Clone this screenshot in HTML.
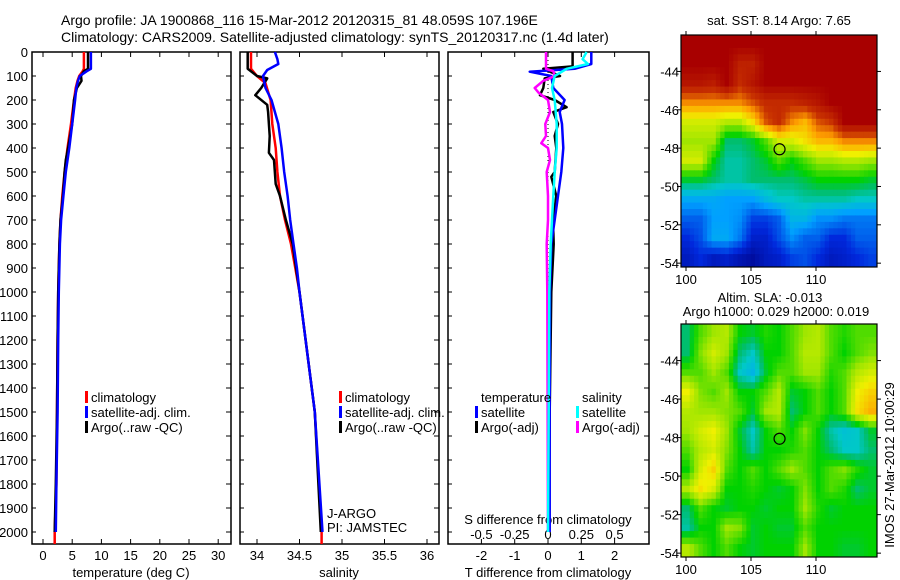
<!DOCTYPE html>
<html><head><meta charset="utf-8"><style>
body{margin:0;background:#fff;}
svg{display:block;font-family:"Liberation Sans",sans-serif;}
text{font-size:13px;fill:#000;}
</style></head><body>
<svg id="chart" width="900" height="580" viewBox="0 0 900 580" xmlns="http://www.w3.org/2000/svg">
<rect width="900" height="580" fill="#fff"/>
<text x="61" y="25" style="font-size:14px">Argo profile: JA 1900868_116 15-Mar-2012 20120315_81 48.059S 107.196E</text>
<text x="61" y="42" style="font-size:14px">Climatology: CARS2009. Satellite-adjusted climatology: synTS_20120317.nc (1.4d later)</text>
<g id="g"></g>
</svg>
<script>
// ---------- data ----------
const depthTicks=[0,100,200,300,400,500,600,700,800,900,1000,1100,1200,1300,1400,1500,1600,1700,1800,1900,2000];
const tempTicks=[0,5,10,15,20,25,30];
const salTicks=[34,34.5,35,35.5,36];
const tdTicks=[-2,-1,0,1,2];
const sdTickVals=[-0.5,-0.25,0,0.25,0.5];
const sdTickLabels=["-0.5","-0.25","0","0.25","0.5"];

const tClimDepth=[0,70,80,100,120,150,200,300,400,500,600,700,800,1000,1200,1500,1800,2000,2050];
const tClim=[7.0,7.0,6.8,6.2,5.9,5.6,5.3,4.8,4.2,3.7,3.3,3.0,2.8,2.6,2.5,2.4,2.3,2.0,2.0];
const tSatDepth=[0,70,80,100,120,150,200,300,400,500,600,700,800,1000,1200,1500,1800,2000];
const tSat=[8.2,8.2,7.5,6.3,6.0,5.7,5.5,5.0,4.5,3.9,3.5,3.1,2.9,2.7,2.6,2.5,2.3,2.2];
const tArgoDepth=[0,70,80,100,120,150,200,300,400,450,500,600,700,800,1000,1200,1500,1800,2000];
const tArgo=[7.7,7.7,7.0,6.5,6.6,5.8,5.3,5.0,4.3,3.9,3.7,3.4,3.0,2.8,2.6,2.5,2.4,2.2,2.0];

const sClimDepth=[0,70,100,130,200,300,400,500,600,700,800,900,1000,1500,2000,2050];
const sClim=[33.93,33.93,34.0,34.1,34.16,34.18,34.22,34.24,34.27,34.33,34.4,34.45,34.5,34.68,34.76,34.76];
const sSatDepth=[0,30,50,75,100,150,200,300,400,500,600,700,800,900,1000,1500,2000];
const sSat=[34.21,34.24,34.25,34.12,34.07,34.1,34.17,34.25,34.29,34.32,34.36,34.39,34.43,34.47,34.5,34.68,34.77];
const sArgoDepth=[0,70,100,110,150,180,220,250,350,420,450,550,600,700,800,900,1000,1500,2000];
const sArgo=[33.89,33.89,34.0,34.12,34.05,33.98,34.12,34.13,34.15,34.14,34.2,34.22,34.27,34.34,34.42,34.46,34.5,34.68,34.75];

const dTSatDepth=[0,50,70,82,100,150,200,250,300,400,500,600,700,800,1000,1500,2000];
const dTSat=[1.3,1.3,0.8,-0.55,0.1,0.16,0.5,0.35,0.42,0.46,0.4,0.3,0.2,0.1,0.06,0.05,0.05];
const dTArgoDepth=[0,60,70,100,110,150,180,200,230,250,300,350,400,500,520,600,700,800,1000,1500,2000];
const dTArgo=[0.74,0.74,-0.14,0.36,-0.1,-0.14,-0.24,0.2,0.56,0.16,0.3,0.2,0.25,0.2,0.1,0.25,0.15,0.17,0.1,0.05,0.02];
const dSSatDepth=[0,30,50,70,100,150,200,300,400,500,600,800,1000,1500,2000];
const dSSat=[0.29,0.26,0.3,0.14,0.05,0.03,0.05,0.065,0.065,0.05,0.04,0.02,0.01,0.005,0.0];
const dSArgoDepth=[0,70,80,100,120,150,170,200,250,300,350,380,400,450,500,600,700,800,1000,2000];
const dSArgo=[-0.015,-0.015,0.04,0.05,-0.035,-0.1,-0.07,0.0,0.015,-0.02,-0.015,-0.05,0.0,0.015,-0.01,0.0,0.0,-0.01,-0.005,0.0];

const lonTicks=[100,105,110];
const latTicks=[-44,-46,-48,-50,-52,-54];
const argoLon=107.196, argoLat=-48.059;
const sstGrid=[
[1,1,1,1,1,1,1,1,1,1,1,1,1,1,1],
[1,1,1,1,0.92,0.92,1,1,1,1,1,1,1,1,1],
[0.95,0.95,0.93,1,0.9,0.95,1,1,1,1,1,1,1,1,1],
[0.8,0.8,0.8,0.8,0.8,0.85,0.9,0.9,0.9,0.92,0.95,1,1,1,1],
[0.65,0.65,0.65,0.62,0.62,0.7,0.85,0.9,0.8,0.75,0.85,0.88,1,1,1],
[0.6,0.6,0.6,0.45,0.45,0.48,0.55,0.65,0.65,0.7,0.75,0.75,0.8,0.8,0.8],
[0.65,0.65,0.5,0.42,0.42,0.45,0.48,0.55,0.5,0.55,0.6,0.6,0.62,0.62,0.6],
[0.48,0.48,0.45,0.42,0.42,0.45,0.45,0.45,0.45,0.47,0.5,0.5,0.5,0.5,0.48],
[0.32,0.32,0.32,0.3,0.3,0.3,0.36,0.4,0.4,0.42,0.42,0.42,0.42,0.4,0.4],
[0.22,0.22,0.3,0.3,0.28,0.18,0.18,0.22,0.35,0.35,0.28,0.28,0.25,0.25,0.25],
[0.15,0.2,0.32,0.32,0.25,0.12,0.12,0.2,0.28,0.22,0.22,0.15,0.15,0.22,0.22],
[0.1,0.15,0.1,0.12,0.08,0.05,0.1,0.12,0.18,0.2,0.15,0.1,0.12,0.15,0.18]];
const slaGrid=[
[0.45,0.55,0.6,0.62,0.5,0.48,0.52,0.5,0.55,0.6,0.62,0.55,0.52,0.55,0.55],
[0.45,0.58,0.65,0.6,0.45,0.4,0.5,0.5,0.55,0.62,0.62,0.55,0.5,0.55,0.58],
[0.55,0.55,0.6,0.55,0.4,0.35,0.48,0.55,0.55,0.6,0.6,0.52,0.55,0.62,0.65],
[0.68,0.58,0.55,0.6,0.5,0.5,0.55,0.62,0.48,0.5,0.55,0.5,0.55,0.68,0.72],
[0.62,0.6,0.6,0.58,0.55,0.48,0.6,0.62,0.45,0.5,0.55,0.5,0.55,0.7,0.76],
[0.6,0.65,0.68,0.6,0.48,0.4,0.5,0.55,0.5,0.58,0.5,0.42,0.38,0.4,0.48],
[0.55,0.62,0.65,0.58,0.5,0.42,0.5,0.5,0.52,0.55,0.5,0.45,0.4,0.4,0.45],
[0.5,0.65,0.72,0.55,0.5,0.55,0.5,0.55,0.6,0.55,0.5,0.55,0.58,0.52,0.48],
[0.62,0.7,0.65,0.5,0.5,0.52,0.5,0.48,0.5,0.58,0.5,0.55,0.52,0.45,0.48],
[0.45,0.55,0.5,0.48,0.5,0.5,0.48,0.5,0.5,0.6,0.52,0.48,0.5,0.5,0.5],
[0.42,0.5,0.5,0.6,0.58,0.48,0.5,0.48,0.48,0.55,0.5,0.5,0.5,0.5,0.5],
[0.62,0.55,0.5,0.55,0.5,0.48,0.5,0.5,0.5,0.6,0.5,0.5,0.48,0.48,0.5]];

// ---------- drawing ----------
const NS="http://www.w3.org/2000/svg";
const G=document.getElementById('g');
function mk(tag,attrs,parent){const e=document.createElementNS(NS,tag);for(const k in attrs)e.setAttribute(k,attrs[k]);(parent||G).appendChild(e);return e;}
function txt(x,y,s,anchor,parent){const t=mk('text',{x:x,y:y,'text-anchor':anchor||'start'},parent);t.textContent=s;return t;}

const PT=52, PB=544;
const yD=d=>PT+d*0.24;
const panels=[{x0:32,x1:231},{x0:240,x1:439},{x0:448,x1:649}];
const xT=v=>43+v*5.84;
const xS=v=>257+(v-34)*85;
const xTD=v=>548+v*33.3;
const xSD=v=>548+v*133.2;

panels.forEach((p,i)=>{
  const r=mk('rect',{x:p.x0,y:PT,width:p.x1-p.x0,height:PB-PT,fill:'none',stroke:'#000','stroke-width':1.5});
  
  
  depthTicks.forEach(d=>{
    mk('line',{x1:p.x0,x2:p.x0+4,y1:yD(d),y2:yD(d),stroke:'#000'});
    mk('line',{x1:p.x1,x2:p.x1-5,y1:yD(d),y2:yD(d),stroke:'#000'});
  });
});
depthTicks.forEach(d=>{const t=txt(28,yD(d)+5,String(d),'end');
  
  });
function xticks(vals,fx,labels,ly){vals.forEach((v,i)=>{
  mk('line',{x1:fx(v),x2:fx(v),y1:PT,y2:PT+5,stroke:'#000'});
  mk('line',{x1:fx(v),x2:fx(v),y1:PB,y2:PB-5,stroke:'#000'});
  if(labels){const t=txt(fx(v),ly,labels[i],'middle');
    
    }
});}
xticks(tempTicks,xT,tempTicks.map(String),560);
xticks(salTicks,xS,salTicks.map(String),560);
xticks(tdTicks,xTD,tdTicks.map(String),560);
sdTickVals.forEach((v,i)=>{const t=txt(xSD(v),539,sdTickLabels[i],'middle');
  
  });
let t;
t=txt(131,577,'temperature (deg C)','middle');
t=txt(339,577,'salinity','middle');
t=txt(548,577,'T difference from climatology','middle');
t=txt(548,524,'S difference from climatology','middle');
t=txt(327,518,'J-ARGO');
t=txt(327,532,'PI: JAMSTEC');

mk('line',{x1:xTD(0),x2:xTD(0),y1:yD(0),y2:yD(2000),stroke:'#000','stroke-dasharray':'1,3'});

function profile(vals,depths,fx,color,name){
  const pts=vals.map((v,i)=>fx(v).toFixed(1)+','+yD(depths[i]).toFixed(1)).join(' ');
  const l=mk('polyline',{points:pts,fill:'none',stroke:color,'stroke-width':2.5,'stroke-linejoin':'round'});
  
  
}
profile(tClim,tClimDepth,xT,'#f00','temp-climatology-line');
profile(tArgo,tArgoDepth,xT,'#000','temp-argo-line');
profile(tSat,tSatDepth,xT,'#00f','temp-satellite-line');
profile(sClim,sClimDepth,xS,'#f00','sal-climatology-line');
profile(sArgo,sArgoDepth,xS,'#000','sal-argo-line');
profile(sSat,sSatDepth,xS,'#00f','sal-satellite-line');
profile(dTArgo,dTArgoDepth,xTD,'#000','tdiff-argo-line');
profile(dTSat,dTSatDepth,xTD,'#00f','tdiff-satellite-line');
profile(dSArgo,dSArgoDepth,xSD,'#f0f','sdiff-argo-line');
profile(dSSat,dSSatDepth,xSD,'#0ff','sdiff-satellite-line');

function legend(x,y,color,label,name){
  if(color){const b=mk('rect',{x:x-6,y:y-11,width:3,height:12,fill:color});
    
    }
  const tt=txt(x,y,label);
  
  
}
legend(91,402,'#f00','climatology','legend-t-climatology');
legend(91,417,'#00f','satellite-adj. clim.','legend-t-satellite');
legend(91,432,'#000','Argo(..raw -QC)','legend-t-argo');
legend(345,402,'#f00','climatology','legend-s-climatology');
legend(345,417,'#00f','satellite-adj. clim.','legend-s-satellite');
legend(345,432,'#000','Argo(..raw -QC)','legend-s-argo');
legend(481,402,null,'temperature','legend-temperature-header');
legend(481,417,'#00f','satellite','legend-tdiff-satellite');
legend(481,432,'#000','Argo(-adj)','legend-tdiff-argo');
legend(582,402,null,'salinity','legend-salinity-header');
legend(582,417,'#0ff','satellite','legend-sdiff-satellite');
legend(582,432,'#f0f','Argo(-adj)','legend-sdiff-argo');

const stops=[[0,[0,0,130]],[0.15,[0,40,220]],[0.3,[0,160,255]],[0.4,[0,200,200]],[0.45,[0,190,110]],[0.5,[0,210,0]],[0.6,[160,230,0]],[0.68,[240,240,0]],[0.78,[255,160,0]],[0.88,[200,50,0]],[1,[168,0,0]]];
function cmap(v){for(let i=1;i<stops.length;i++){if(v<=stops[i][0]){const a=stops[i-1],b=stops[i],f=(v-a[0])/(b[0]-a[0]);
  return 'rgb('+a[1].map((c,k)=>Math.round(c+(b[1][k]-c)*f)).join(',')+')';}}return 'rgb(168,0,0)';}

function sample(grid,r,c){ // bilinear between cell centres
  const R=grid.length,C=grid[0].length;
  r=Math.max(0,Math.min(R-1,r));c=Math.max(0,Math.min(C-1,c));
  const r0=Math.floor(r),c0=Math.floor(c),r1=Math.min(R-1,r0+1),c1=Math.min(C-1,c0+1),fr=r-r0,fc=c-c0;
  return grid[r0][c0]*(1-fr)*(1-fc)+grid[r0][c1]*(1-fr)*fc+grid[r1][c0]*fr*(1-fc)+grid[r1][c1]*fr*fc;
}

function map(top,bottom,grid,name){
  const x0=681,x1=877;
  const fx=lon=>686+(lon-100)*13;
  const lat0=-44, y44=top+(bottom-top)*(1.9/12.1);
  const pxLat=(bottom-top)/12.1;
  const fy=lat=>y44+(lat0-lat)*pxLat;
  const g=mk('g',{});
  
  
  const rows=grid.length, cols=grid[0].length, SUB=3;
  const cw=(x1-x0)/(cols*SUB), rh=(bottom-top)/(rows*SUB);
  for(let ri=0;ri<rows*SUB;ri++)for(let ci=0;ci<cols*SUB;ci++){
    const v=sample(grid,(ri+0.5)/SUB-0.5,(ci+0.5)/SUB-0.5);
    const c=mk('rect',{x:(x0+ci*cw).toFixed(2),y:(top+ri*rh).toFixed(2),width:(cw+0.5).toFixed(2),height:(rh+0.5).toFixed(2),fill:cmap(v)},g);
    
    
  }
  mk('rect',{x:x0,y:top,width:x1-x0,height:bottom-top,fill:'none',stroke:'#000','stroke-width':1.2},g);
  lonTicks.forEach(l=>{
    mk('line',{x1:fx(l),x2:fx(l),y1:top-4,y2:top,stroke:'#000'},g);
    mk('line',{x1:fx(l),x2:fx(l),y1:bottom,y2:bottom+4,stroke:'#000'},g);
    const tt=txt(fx(l),bottom+17,String(l),'middle',g);
    
    
  });
  latTicks.forEach(l=>{
    mk('line',{x1:x0-4,x2:x0,y1:fy(l),y2:fy(l),stroke:'#000'},g);
    mk('line',{x1:x1,x2:x1+4,y1:fy(l),y2:fy(l),stroke:'#000'},g);
    const tt=txt(x0-2,fy(l)+5,String(l),'end',g);
    
    
  });
  const c=mk('circle',{cx:fx(argoLon),cy:fy(argoLat),r:5.5,fill:'none',stroke:'#000','stroke-width':1.2},g);
  
  
}
map(35,267,sstGrid,'sst-map');
map(324,557,slaGrid,'sla-map');
t=txt(779,25,'sat. SST: 8.14 Argo: 7.65','middle');
t=txt(770,302,'Altim. SLA: -0.013','middle');
t=txt(776,316,'Argo h1000: 0.029 h2000: 0.019','middle');
t=txt(0,0,'IMOS 27-Mar-2012 10:00:29','middle');t.setAttribute('transform','translate(894,465) rotate(-90)');

</script>
</body></html>
